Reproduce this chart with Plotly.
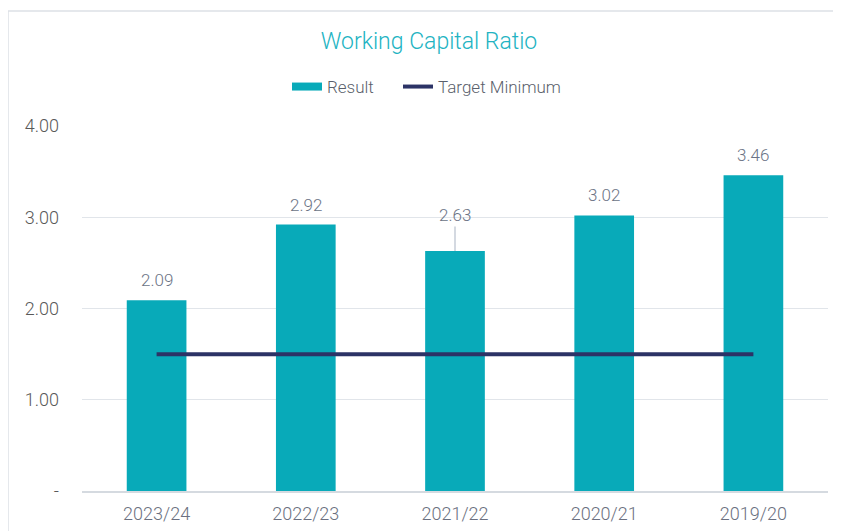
import plotly.graph_objects as go

categories = ["2023/24", "2022/23", "2021/22", "2020/21", "2019/20"]
result = [2.09, 2.92, 2.63, 3.02, 3.46]
target_minimum = [1.5, 1.5, 1.5, 1.5, 1.5]
label_leader = [False, False, True, False, False]
tick_vals = [0, 1, 2, 3, 4]
tick_text = ["-", "1.00", "2.00", "3.00", "4.00"]

FONT = "Roboto"
BAR = "#08AAB9"
fig = go.Figure()
fig.add_trace(go.Bar(x=categories, y=result, name="Result", marker_color=BAR,
                     marker_line_width=0, width=0.4, showlegend=False))
# legend entry for Result drawn as wide flat swatch
fig.add_trace(go.Scatter(x=[None], y=[None], name="Result", mode="lines",
                         line=dict(color=BAR, width=8), legend="legend"))
fig.add_trace(go.Scatter(x=categories, y=target_minimum, name="Target Minimum", mode="lines",
                         line=dict(color="#2C3366", width=4), legend="legend2"))

for c, v, lead in zip(categories, result, label_leader):
    if lead:
        fig.add_annotation(x=c, y=v, text=f"{v:.2f}", showarrow=True, arrowhead=0,
                           arrowwidth=1.2, arrowcolor="#B8C0CE", ax=0, ay=-36,
                           font=dict(family=FONT, size=17, color="#6B7385", weight=300))
    else:
        fig.add_annotation(x=c, y=v, text=f"{v:.2f}", showarrow=False, yanchor="bottom",
                           yshift=8, font=dict(family=FONT, size=17, color="#6B7385", weight=300))

# outer chart border
fig.add_shape(type="rect", xref="paper", yref="paper", x0=-0.0992, x1=1.05, y0=-0.16, y1=1.315,
              line=dict(color="#DDE1E6", width=1.5), fillcolor="rgba(0,0,0,0)", layer="below")

legend_common = dict(orientation="h", xref="container", yref="container", xanchor="left",
                     y=1 - 79 / 531, yanchor="middle",
                     font=dict(family=FONT, size=17, color="#5A5F6B", weight=300),
                     itemwidth=30, bgcolor="rgba(0,0,0,0)")

fig.update_layout(
    width=841, height=531,
    margin=dict(l=74, r=21, t=118, b=48, autoexpand=False),
    paper_bgcolor="white", plot_bgcolor="white",
    title=dict(text="Working Capital Ratio", x=(429 - 8) / 841, xanchor="center", y=1 - 33 / 531,
               yanchor="middle", xref="container", yref="container",
               font=dict(family=FONT, size=23, color="#22B3C2", weight=300)),
    legend=dict(x=(287 - 8) / 841, **legend_common),
    legend2=dict(x=(398 - 8) / 841, **legend_common),
    showlegend=True,
    bargap=0.6,
)
fig.update_yaxes(range=[0, 4], tickvals=tick_vals, ticktext=tick_text, showgrid=True,
                 gridcolor="#E1E5EA", gridwidth=1.3, zeroline=False, ticks="", ticklabelstandoff=22,
                 tickfont=dict(family=FONT, size=18, color="#595959", weight=300))
fig.update_xaxes(showline=True, linecolor="#D5DAE0", linewidth=1.5, ticks="", ticklabelstandoff=6,
                 tickfont=dict(family=FONT, size=18, color="#6B7080", weight=300))

fig.write_html("out.html")
